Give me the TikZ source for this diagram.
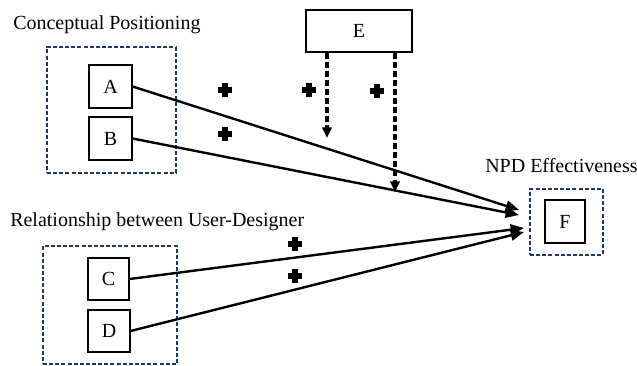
\documentclass[tikz,border=0pt]{standalone}
\usepackage{fontspec}
\setmainfont{Liberation Serif}
\usetikzlibrary{arrows.meta}
\definecolor{navy}{HTML}{1F3864}
\tikzset{
  px/.style={x=0.75pt,y=-0.75pt},
  grp/.style={draw=navy,line width=1.1pt,dash pattern=on 3pt off 1.6pt,inner sep=0pt},
  var/.style={draw=black,line width=0.9pt,font=\fontsize{15pt}{15pt}\selectfont,inner sep=0pt},
  lbl/.style={font=\fontsize{15pt}{15pt}\selectfont,inner sep=0pt,anchor=west},
  pls/.style={minimum size=12pt,inner sep=0pt,
    path picture={\begin{scope}[shift={(path picture bounding box.center)}]
      \fill[black] (-7,-2.8) rectangle (7,2.8);
      \fill[black] (-2.8,-7) rectangle (2.8,7);
    \end{scope}}},
  path/.style={line width=1.8pt,-{Triangle[length=10pt,width=8pt]}},
  mod/.style={line width=2.3pt,dash pattern=on 4.5pt off 2.3pt,-{Triangle[length=8pt,width=7pt]}}
}
\begin{document}
\begin{tikzpicture}[px]
\useasboundingbox (0,0) rectangle (637,366);
% group boxes
\node[grp,minimum width=129*0.75pt,minimum height=126*0.75pt] (g1) at (111.5,110) {};
\node[grp,minimum width=134*0.75pt,minimum height=118*0.75pt] (g2) at (110,305) {};
\node[grp,minimum width=73*0.75pt,minimum height=66*0.75pt] (g3) at (566.5,222) {};
% labels
\node[lbl] (t1) at (13,25) {Conceptual Positioning};
\node[lbl] (t2) at (10,222) {Relationship between User-Designer};
\node[lbl] (t3) at (485,166) {NPD Effectiveness};
% variable boxes
\node[var,minimum width=43*0.75pt,minimum height=43*0.75pt] (A) at (110.5,86.5) {A};
\node[var,minimum width=43*0.75pt,minimum height=43*0.75pt] (B) at (110.5,138.5) {B};
\node[var,minimum width=41*0.75pt,minimum height=42*0.75pt] (C) at (108.5,279) {C};
\node[var,minimum width=42*0.75pt,minimum height=42*0.75pt] (D) at (109,331) {D};
\node[var,minimum width=106*0.75pt,minimum height=42*0.75pt] (E) at (359,31) {E};
\node[var,minimum width=40*0.75pt,minimum height=43*0.75pt] (F) at (565,221.5) {F};
% arrow endpoints
\coordinate (fa) at (519,210);
\coordinate (fb) at (519,215);
\coordinate (fc) at (524,228);
\coordinate (fd) at (524,232);
\draw[path] (A.east) -- (fa);
\draw[path] (B.east) -- (fb);
\draw[path] (C.east) -- (fc);
\draw[path] (D.east) -- (fd);
% moderating arrows
\coordinate (m1) at (327,138);
\coordinate (m2) at (395,192);
\draw[mod] (E.south -| m1) -- (m1);
\draw[mod] (E.south -| m2) -- (m2);
% plus signs
\node[pls] (p1) at (225,90) {};
\node[pls] (p2) at (309,90) {};
\node[pls] (p3) at (377,91) {};
\node[pls] (p4) at (225,134) {};
\node[pls] (p5) at (295,244) {};
\node[pls] (p6) at (295,276) {};
\end{tikzpicture}
\end{document}
